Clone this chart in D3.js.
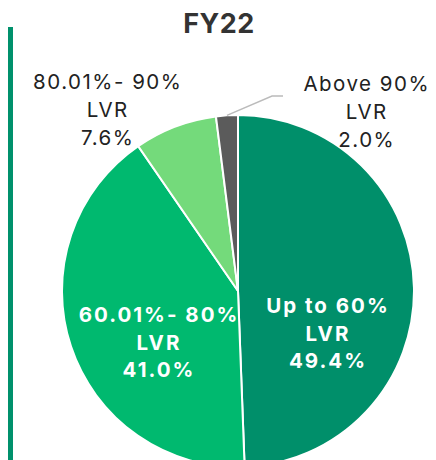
<!DOCTYPE html>
<html>
<head>
<meta charset="utf-8">
<script src="https://cdn.jsdelivr.net/npm/d3@7"></script>
<style>
  body { margin: 0; background: #fff; }
  svg { display: block; font-family: Inter, "Noto Sans", sans-serif; }
</style>
</head>
<body>
<script>
// slices, clockwise from 12 o'clock
const categories = ["Up to 60%", "60.01%- 80%", "80.01%- 90%", "Above 90%"];
const values = [49.4, 41.0, 7.6, 2.0];
const valueLabels = ["49.4%", "41.0%", "7.6%", "2.0%"];
const colors = ["#008f6a", "#00b96f", "#74da7b", "#5b5b5b"];

const width = 436, height = 460;
const cx = 238, cy = 291, radius = 176;

const svg = d3.select("body").append("svg")
    .attr("width", width).attr("height", height);

// green bar on the left
svg.append("rect")
    .attr("x", 8).attr("y", 27)
    .attr("width", 5).attr("height", height - 27)
    .attr("fill", "#00916c");

svg.append("text")
    .attr("x", 219).attr("y", 33)
    .attr("text-anchor", "middle")
    .attr("font-size", 27).attr("font-weight", 700)
    .attr("letter-spacing", 0.5)
    .attr("fill", "#333333")
    .text("FY22");

const data = categories.map((c, i) => ({name: c, value: values[i], label: valueLabels[i], color: colors[i]}));

const pie = d3.pie().value(d => d.value).sort(null);
const arc = d3.arc().innerRadius(0).outerRadius(radius);
const arcs = pie(data);

const g = svg.append("g").attr("transform", `translate(${cx},${cy})`);

g.selectAll("path")
    .data(arcs)
    .enter().append("path")
    .attr("d", arc)
    .attr("fill", d => d.data.color)
    .attr("stroke", "#ffffff")
    .attr("stroke-width", 2);

// labels: inside ones are bold white, outside ones dark
const labelPos = [
    {x: 327, y: 313, inside: true},
    {x: 158, y: 322, inside: true},
    {x: 107, y: 89, inside: false},
    {x: 366, y: 91, inside: false}
];

arcs.forEach((a, i) => {
    const p = labelPos[i];
    const ls = p.inside ? 2 : 1.5;
    const t = svg.append("text")
        .attr("text-anchor", "middle")
        .attr("font-size", 20.5)
        .attr("font-weight", p.inside ? 700 : 400)
        .attr("letter-spacing", ls)
        .attr("fill", p.inside ? "#ffffff" : "#222222");
    const lines = [a.data.name, "LVR", a.data.label];
    const step = p.inside ? 27.5 : 28;
    lines.forEach((l, k) => {
        t.append("tspan").attr("x", p.x + ls / 2).attr("y", p.y + k * step).text(l);
    });
});

// leader line for the small grey slice
const small = arcs[3];
const mid = (small.startAngle + small.endAngle) / 2;
const start = [cx + Math.sin(mid) * radius, cy - Math.cos(mid) * radius];
svg.append("polyline")
    .attr("points", [start, [272, 96], [283, 96]].map(p => p.join(",")).join(" "))
    .attr("fill", "none")
    .attr("stroke", "#bbbbbb")
    .attr("stroke-width", 1.5);
</script>
</body>
</html>
